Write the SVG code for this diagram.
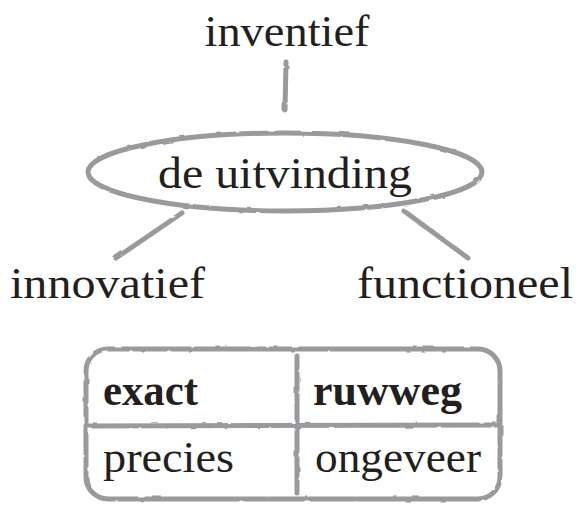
<svg xmlns="http://www.w3.org/2000/svg" width="582" height="505" viewBox="0 0 582 505">
<defs>
<filter id="rough" filterUnits="userSpaceOnUse" x="0" y="0" width="582" height="505">
<feTurbulence type="fractalNoise" baseFrequency="0.08" numOctaves="2" seed="3" result="n"/>
<feDisplacementMap in="SourceGraphic" in2="n" scale="2.5"/>
</filter>
</defs>
<style>
.ln{fill:none;stroke:#999a9e;stroke-width:5;stroke-linecap:round;filter:url(#rough)}
.t{font-family:"Liberation Serif","Times New Roman",serif;font-size:44px;fill:#231f20}
.b{font-weight:bold}
</style>
<rect width="582" height="505" fill="#ffffff"/>
<g id="connectors">
<path class="ln" d="M286,62 L285,110"/>
<path class="ln" d="M182,213 L116,258"/>
<path class="ln" d="M404,211 L468,258"/>
</g>
<g id="node-inventief"><text class="t" x="287" y="46" text-anchor="middle" textLength="165" lengthAdjust="spacingAndGlyphs">inventief</text></g>
<g id="node-uitvinding">
<ellipse class="ln" cx="285" cy="172" rx="197" ry="39"/>
<text class="t" x="285" y="188" text-anchor="middle" textLength="254" lengthAdjust="spacingAndGlyphs">de uitvinding</text>
</g>
<g id="node-innovatief"><text class="t" x="10" y="298" textLength="195" lengthAdjust="spacingAndGlyphs">innovatief</text></g>
<g id="node-functioneel"><text class="t" x="357" y="298" textLength="216" lengthAdjust="spacingAndGlyphs">functioneel</text></g>
<g id="node-table">
<rect class="ln" x="86" y="349" width="414" height="150" rx="22"/>
<path class="ln" d="M89,426 L497,425"/>
<path class="ln" d="M297,356 L297,493"/>
<text class="t b" x="103" y="405" textLength="95" lengthAdjust="spacingAndGlyphs">exact</text>
<text class="t b" x="313" y="405" textLength="149" lengthAdjust="spacingAndGlyphs">ruwweg</text>
<text class="t" x="103" y="472" textLength="131" lengthAdjust="spacingAndGlyphs">precies</text>
<text class="t" x="315" y="472" textLength="166" lengthAdjust="spacingAndGlyphs">ongeveer</text>
</g>
</svg>
